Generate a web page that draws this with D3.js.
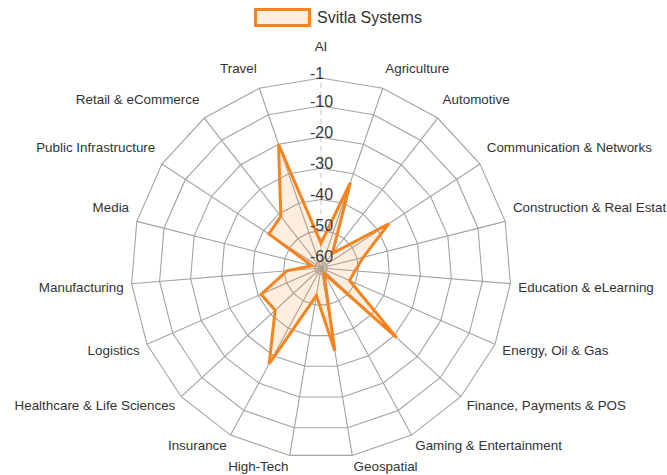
<!DOCTYPE html>
<html>
<head>
<meta charset="utf-8">
<script src="https://cdn.jsdelivr.net/npm/d3@7/dist/d3.min.js"></script>
<style>
  html, body { margin: 0; padding: 0; background: #fff; }
  svg { display: block; font-family: "Liberation Sans", Arial, sans-serif; }
</style>
</head>
<body>
<svg id="chart" width="667" height="475"></svg>
<script>
const categories = [
  "AI", "Agriculture", "Automotive", "Communication & Networks",
  "Construction & Real Estate", "Education & eLearning", "Energy, Oil & Gas",
  "Finance, Payments & POS", "Gaming & Entertainment", "Geospatial",
  "High-Tech", "Insurance", "Healthcare & Life Sciences", "Logistics",
  "Manufacturing", "Media", "Public Infrastructure", "Retail & eCommerce", "Travel"
];
const seriesName = "Svitla Systems";
const values = [-54, -33, -56, -36, -48, -51, -52, -29, -60, -35, -53, -27, -42, -41, -51, -59, -42, -41, -20];
const tickValues = [-1, -10, -20, -30, -40, -50, -60];
const tickLabels = ["-1", "-10", "-20", "-30", "-40", "-50", "-60"];

const cx = 321, cy = 268, R = 190;
const svg = d3.select("#chart");
const n = categories.length;
const angle = d3.scaleLinear().domain([0, n]).range([0, 2 * Math.PI]);
const radius = d3.scaleLinear().domain([-62, -1]).range([0, R]);

const g = svg.append("g").attr("transform", `translate(${cx},${cy})`);

const radial = d3.lineRadial()
  .angle((d, i) => angle(i))
  .radius(d => radius(d))
  .curve(d3.curveLinearClosed);

// rings
g.append("g").selectAll("path")
  .data(tickValues)
  .join("path")
  .attr("d", t => radial(categories.map(() => t)))
  .attr("fill", "none")
  .attr("stroke", "#a3a3a3")
  .attr("stroke-width", 1.1);

// spokes
g.append("g").selectAll("line")
  .data(categories)
  .join("line")
  .attr("x1", 0).attr("y1", 0)
  .attr("x2", (d, i) => radius(-1) * Math.sin(angle(i)))
  .attr("y2", (d, i) => -radius(-1) * Math.cos(angle(i)))
  .attr("stroke", (d, i) => i === 0 ? "#c8c8c8" : "#a3a3a3")
  .attr("stroke-dasharray", (d, i) => i === 0 ? "5,4" : null)
  .attr("stroke-width", 1.1);

// data polygon
g.append("path")
  .attr("d", radial(values))
  .attr("fill", "rgba(242,140,50,0.15)")
  .attr("stroke", "#f5841f")
  .attr("stroke-width", 3)
  .attr("stroke-linejoin", "miter");

// tick labels
g.append("g").selectAll("text")
  .data(tickValues)
  .join("text")
  .attr("x", -11)
  .attr("y", t => -radius(t) - 5)
  .attr("dominant-baseline", "central")
  .attr("font-size", 16)
  .attr("fill", "#3a3a3a")
  .text((t, i) => tickLabels[i]);

// category labels
const LR = R + 8;
g.append("g").selectAll("text")
  .data(categories)
  .join("text")
  .each(function(d, i) {
    const a = angle(i);
    const s = Math.sin(a), c = Math.cos(a);
    const x = LR * s, y = -LR * c;
    let dy = c > 0 ? -12 : 3;
    if (c > 0.99) dy = -24;
    d3.select(this)
      .attr("x", x)
      .attr("y", y + dy)
      .attr("text-anchor", Math.abs(s) < 0.01 ? "middle" : (s > 0 ? "start" : "end"));
  })
  .attr("dominant-baseline", "central")
  .attr("font-size", 13.4)
  .attr("fill", "#333")
  .text(d => d);

// legend
const lg = svg.append("g");
lg.append("rect")
  .attr("x", 255.5).attr("y", 9.5)
  .attr("width", 54).attr("height", 16)
  .attr("fill", "rgba(242,140,50,0.15)")
  .attr("stroke", "#f5841f")
  .attr("stroke-width", 3);
lg.append("text")
  .attr("x", 317).attr("y", 17)
  .attr("dominant-baseline", "central")
  .attr("font-size", 16)
  .attr("fill", "#333")
  .text(seriesName);
</script>
</body>
</html>
